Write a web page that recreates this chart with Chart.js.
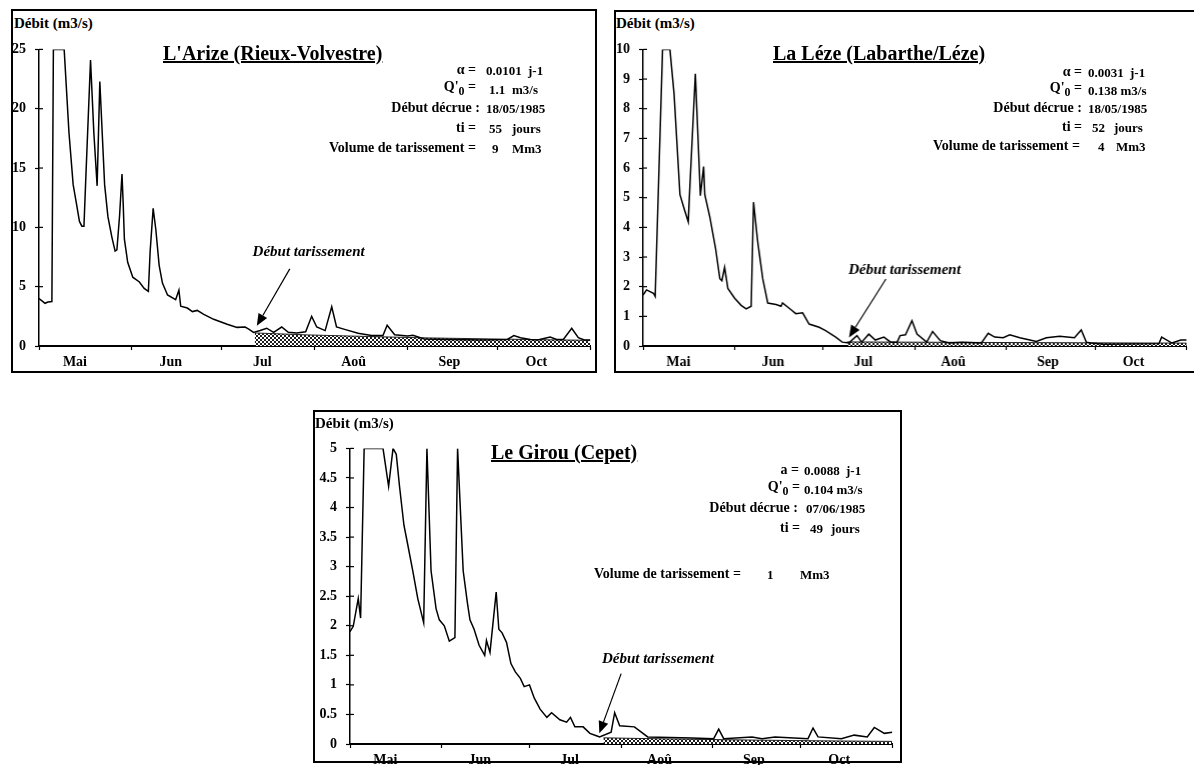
<!DOCTYPE html>
<html>
<head>
<meta charset="utf-8">
<script src="https://cdn.jsdelivr.net/npm/chart.js@4.4.0/dist/chart.umd.min.js"></script>
<style>
  body { margin: 0; width: 1194px; height: 765px; overflow: hidden; background: #fff; position: relative;
         font-family: "Liberation Serif", "Times New Roman", serif; color: #000; }
  .panel { position: absolute; border: 2px solid #000; box-sizing: border-box; }
  .wrap { position: absolute; }
  .t { position: absolute; font-weight: bold; white-space: nowrap; line-height: 1; transform: translateY(-50%); }
  .r { transform: translate(-100%, -50%); }
  .title { font-size: 20px; text-decoration: underline; }
  .p { font-size: 14px; }
  .v { font-size: 13px; }
  .ylab { font-size: 15px; }
  sub { font-size: 0.85em; vertical-align: -0.3em; }
</style>
</head>
<body>

<div class="panel" style="left:11px;top:9px;width:586px;height:364px"></div>
<div class="panel" style="left:614px;top:10px;width:590px;height:363px"></div>
<div class="panel" style="left:313px;top:410px;width:589px;height:353px"></div>

<div class="wrap" style="left:12.7px;top:31.7px;width:581.3px;height:338px"><canvas id="c1"></canvas></div>
<div class="wrap" style="left:617.3px;top:31.7px;width:572.7px;height:338px"><canvas id="c2"></canvas></div>
<div class="wrap" style="left:315.7px;top:431px;width:580.3px;height:337px"><canvas id="c3"></canvas></div>

<!-- panel 1 texts -->
<div class="t ylab" style="left:14px;top:23px">Débit (m3/s)</div>
<div class="t title" style="left:163px;top:53px">L'Arize (Rieux-Volvestre)</div>
<div class="t p r" style="left:476px;top:70px">α =</div>
<div class="t v" style="left:486px;top:70px">0.0101</div>
<div class="t v" style="left:528px;top:70px">j-1</div>
<div class="t p r" style="left:476px;top:89px">Q'<sub>0</sub> =</div>
<div class="t v" style="left:489px;top:89px">1.1</div>
<div class="t v" style="left:512px;top:89px">m3/s</div>
<div class="t p r" style="left:480px;top:108px">Début décrue :</div>
<div class="t v" style="left:486px;top:108px">18/05/1985</div>
<div class="t p r" style="left:476px;top:128px">ti =</div>
<div class="t v" style="left:489px;top:128px">55</div>
<div class="t v" style="left:512px;top:128px">jours</div>
<div class="t p r" style="left:476px;top:148px">Volume de tarissement =</div>
<div class="t v" style="left:492px;top:148px">9</div>
<div class="t v" style="left:512px;top:148px">Mm3</div>

<!-- panel 2 texts -->
<div class="t ylab" style="left:616px;top:23px">Débit (m3/s)</div>
<div class="t title" style="left:773px;top:53px">La Léze (Labarthe/Léze)</div>
<div class="t p r" style="left:1082px;top:72px">α =</div>
<div class="t v" style="left:1088px;top:72px">0.0031</div>
<div class="t v" style="left:1130px;top:72px">j-1</div>
<div class="t p r" style="left:1082px;top:90px">Q'<sub>0</sub> =</div>
<div class="t v" style="left:1088px;top:90px">0.138 m3/s</div>
<div class="t p r" style="left:1082px;top:108px">Début décrue :</div>
<div class="t v" style="left:1088px;top:108px">18/05/1985</div>
<div class="t p r" style="left:1082px;top:127px">ti =</div>
<div class="t v" style="left:1092px;top:127px">52</div>
<div class="t v" style="left:1114px;top:127px">jours</div>
<div class="t p r" style="left:1080px;top:146px">Volume de tarissement =</div>
<div class="t v" style="left:1098px;top:146px">4</div>
<div class="t v" style="left:1116px;top:146px">Mm3</div>

<!-- panel 3 texts -->
<div class="t ylab" style="left:315px;top:423px">Débit (m3/s)</div>
<div class="t title" style="left:491px;top:452px">Le Girou (Cepet)</div>
<div class="t p r" style="left:799px;top:470px">a =</div>
<div class="t v" style="left:804px;top:470px">0.0088</div>
<div class="t v" style="left:846px;top:470px">j-1</div>
<div class="t p r" style="left:800px;top:489px">Q'<sub>0</sub> =</div>
<div class="t v" style="left:804px;top:489px">0.104 m3/s</div>
<div class="t p r" style="left:798px;top:508px">Début décrue :</div>
<div class="t v" style="left:806px;top:508px">07/06/1985</div>
<div class="t p r" style="left:800px;top:528px">ti =</div>
<div class="t v" style="left:810px;top:528px">49</div>
<div class="t v" style="left:831px;top:528px">jours</div>
<div class="t p r" style="left:741px;top:574px">Volume de tarissement =</div>
<div class="t v" style="left:767px;top:574px">1</div>
<div class="t v" style="left:800px;top:574px">Mm3</div>

<script>
// days counted from 1 May 1985
const months = ['Mai', 'Jun', 'Jul', 'Aoû', 'Sep', 'Oct'];
const monthLabelDays = [12, 44, 74.5, 105, 137, 166];
const monthEdges = [0, 31, 61, 92, 123, 153, 184];

// L'Arize (Rieux-Volvestre)
const arizeDays = [0, 1, 2, 3, 4.3, 4.8, 8.4, 10, 11.4, 12.5, 13.5, 14.3, 15, 15.6, 17.2, 18.3, 19.4, 20.3, 21.9, 23,
  24.3, 25.4, 26, 26.9, 27.7, 28.1, 28.5, 29.6, 31.3, 33.5, 35.1, 36.5, 37.1, 38.1, 39, 40.1, 41.2, 42.9, 45.6, 46.7,
  47.3, 49.5, 51.2, 52.8, 55, 58.3, 62.8, 66.1, 68.8, 70, 71.6, 73.8, 76, 78.3, 81, 83.2, 86, 89, 91, 92.7,
  95.5, 97.7, 99.3, 102, 106.5, 111, 114.8, 116.2, 118.7, 123, 124.8, 128.6, 136, 147.4, 156.3, 158.5, 160.7, 164, 166.4, 170.6,
  172.8, 175, 177.8, 180, 182, 184];
const arizeFlow = [4.0, 3.8, 3.6, 3.7, 3.75, 25, 25, 18, 13.6, 12, 10.5, 10.1, 10.1, 14, 24.1, 18, 13.5, 22.3, 13.6, 10.9,
  9.2, 8.0, 8.1, 11, 14.5, 12, 9.0, 7.05, 5.8, 5.4, 4.85, 4.6, 8, 11.6, 9.8, 6.8, 5.3, 4.3, 3.9, 4.7,
  3.35, 3.2, 2.9, 3.0, 2.66, 2.25, 1.84, 1.57, 1.6, 1.43, 1.15, 1.3, 1.5, 1.15, 1.6, 1.15, 1.1, 1.2, 2.5, 1.6,
  1.3, 3.3, 1.6, 1.4, 1.07, 0.88, 0.88, 1.75, 0.95, 0.85, 0.9, 0.6, 0.55, 0.5, 0.55, 0.88, 0.7, 0.55, 0.5, 0.75,
  0.55, 0.55, 1.5, 0.7, 0.5, 0.5];
const arizeRecDays = [72, 90, 110, 130, 150, 170, 184];
const arizeRecFlow = [1.1, 0.93, 0.8, 0.68, 0.6, 0.52, 0.48];
const arizeTicks = [0, 5, 10, 15, 20, 25];

// La Léze (Labarthe/Léze)
const lezeDays = [0, 1.2, 3.5, 4.1, 6.6, 9.1, 10.5, 12.5, 14.1, 15.3, 15.9, 17.7, 19.4, 20.5, 20.9, 22.6, 24.6, 26, 26.7, 27.6,
  28.7, 31, 33.2, 34.9, 36.6, 37.4, 38.8, 40.5, 42.2, 45, 46.7, 47.2, 50, 51.7, 54, 56.2, 59.6, 61.8, 65.2, 67.4,
  69.6, 72.4, 74, 76.4, 78.6, 81.5, 83.8, 86, 87, 88.8, 91, 92.7, 96, 98, 100.6, 103.5, 108, 114.5, 116.8, 119,
  121.9, 124.1, 127.5, 130.9, 133.1, 136.5, 141, 146, 148.3, 150, 151.6, 156, 174.6, 175.5, 179, 182, 184];
const lezeFlow = [1.72, 1.89, 1.78, 1.67, 10, 10, 8.5, 5.1, 4.57, 4.19, 5.5, 9.18, 5.07, 6.05, 5.1, 4.35, 3.26, 2.27, 2.2, 2.65,
  1.94, 1.61, 1.37, 1.25, 1.34, 4.85, 3.53, 2.27, 1.45, 1.4, 1.34, 1.45, 1.23, 1.09, 1.12, 0.74, 0.63, 0.52, 0.3, 0.13,
  0.1, 0.35, 0.13, 0.4, 0.2, 0.3, 0.13, 0.13, 0.35, 0.38, 0.85, 0.4, 0.13, 0.49, 0.18, 0.1, 0.13, 0.1, 0.43, 0.3,
  0.28, 0.38, 0.28, 0.2, 0.15, 0.28, 0.33, 0.28, 0.54, 0.13, 0.1, 0.06, 0.08, 0.3, 0.1, 0.2, 0.2];
const lezeRecDays = [69, 100, 130, 160, 184];
const lezeRecFlow = [0.138, 0.125, 0.114, 0.104, 0.097];
const lezeTicks = [0, 1, 2, 3, 4, 5, 6, 7, 8, 9, 10];

// Le Girou (Cepet)
const girouDays = [0, 1.1, 2.8, 3.6, 4.8, 11.2, 13.1, 14.6, 15.7, 16.8, 18.3, 19.6, 21.3, 23, 25, 26.1, 27.5, 29.2, 30.3, 32,
  33.7, 35.6, 36.5, 38.4, 39.8, 40.7, 42.1, 43.8, 45.7, 46.3, 47.5, 49.6, 50.5, 51.6, 53.1, 54.6, 56.1, 57.8, 59.1, 60.9,
  62.5, 64.5, 66.8, 68.4, 71.2, 73.5, 74.8, 76.3, 79.1, 81.4, 83.6, 84.7, 88.6, 89.8, 91.5, 96.5, 101, 116, 123.4, 125.1,
  126.8, 136.4, 139.8, 144.2, 155.4, 157.1, 158.8, 166.7, 171.1, 175.5, 177.9, 181.3, 184];
const girouFlow = [1.9, 1.99, 2.46, 2.13, 5, 5, 4.36, 5, 4.9, 4.36, 3.7, 3.37, 2.93, 2.46, 2.05, 5, 2.93, 2.29, 2.1, 2.0,
  1.74, 1.8, 5, 2.93, 2.4, 2.1, 1.94, 1.67, 1.5, 1.75, 1.55, 2.57, 1.94, 1.88, 1.72, 1.36, 1.22, 1.11, 0.97, 1.0,
  0.78, 0.59, 0.45, 0.53, 0.41, 0.37, 0.45, 0.29, 0.29, 0.18, 0.14, 0.12, 0.2, 0.53, 0.31, 0.29, 0.12, 0.1, 0.09, 0.25,
  0.09, 0.12, 0.09, 0.12, 0.09, 0.27, 0.12, 0.09, 0.15, 0.12, 0.28, 0.18, 0.2];
const girouRecDays = [86, 110, 135, 160, 184];
const girouRecFlow = [0.104, 0.084, 0.067, 0.053, 0.044];
const girouTicks = [0, 0.5, 1, 1.5, 2, 2.5, 3, 3.5, 4, 4.5, 5];

Chart.defaults.font.family = '"Liberation Serif", "Times New Roman", serif';
Chart.defaults.color = '#000';

function hatchPattern() {
  const c = document.createElement('canvas');
  c.width = 4; c.height = 4;
  const g = c.getContext('2d');
  g.fillStyle = '#fff';
  g.fillRect(0, 0, 4, 4);
  g.fillStyle = '#1a1a1a';
  for (let i = 0; i < 4; i++) {
    g.fillRect(i, i, 1, 1);
    g.fillRect(3 - i, i, 1, 1);
  }
  return g.createPattern(c, 'repeat');
}

// arrow + "Début tarissement" label, and the inner half of the y tick marks
const arrowPlugin = {
  id: 'arrow',
  afterDraw(chart, args, opts) {
    const { ctx, scales: { x, y } } = chart;
    ctx.save();
    ctx.strokeStyle = '#000';
    ctx.lineWidth = 1.2;
    const ax = x.left;
    y.ticks.forEach(t => {
      const py = y.getPixelForValue(t.value);
      ctx.beginPath(); ctx.moveTo(ax, py); ctx.lineTo(ax + 4, py); ctx.stroke();
    });
    const tx = x.getPixelForValue(opts.tail[0]), ty = y.getPixelForValue(opts.tail[1]);
    const hx = x.getPixelForValue(opts.tip[0]), hy = y.getPixelForValue(opts.tip[1]);
    const ang = Math.atan2(hy - ty, hx - tx);
    const len = 12, half = 5;
    const bx = hx - len * Math.cos(ang), by = hy - len * Math.sin(ang);
    ctx.beginPath(); ctx.moveTo(tx, ty); ctx.lineTo(bx, by); ctx.stroke();
    ctx.fillStyle = '#000';
    ctx.beginPath();
    ctx.moveTo(hx, hy);
    ctx.lineTo(bx + half * Math.sin(ang), by - half * Math.cos(ang));
    ctx.lineTo(bx - half * Math.sin(ang), by + half * Math.cos(ang));
    ctx.closePath(); ctx.fill();
    ctx.font = 'italic bold 15px "Liberation Serif", serif';
    ctx.textAlign = 'center';
    ctx.textBaseline = 'middle';
    ctx.fillText(opts.text, x.getPixelForValue(opts.label[0]), y.getPixelForValue(opts.label[1]));
    ctx.restore();
  }
};

function makeChart(id, days, flow, recDays, recFlow, yTicks, yWidth, arrow) {
  const pts = days.map((d, i) => ({ x: d, y: flow[i] }));
  const rec = recDays.map((d, i) => ({ x: d, y: recFlow[i] }));
  return new Chart(document.getElementById(id), {
    type: 'line',
    data: {
      datasets: [
        { data: pts, borderColor: '#000', borderWidth: 1.5, pointRadius: 0, fill: false, tension: 0, order: 0 },
        { data: rec, borderColor: '#222', borderWidth: 1, pointRadius: 0, fill: 'origin',
          backgroundColor: hatchPattern(), tension: 0, order: 1 }
      ]
    },
    options: {
      animation: false,
      responsive: true,
      maintainAspectRatio: false,
      layout: { padding: { top: 10, left: 0, right: 0, bottom: 0 } },
      plugins: { legend: { display: false }, tooltip: { enabled: false }, arrow: arrow },
      scales: {
        x: {
          type: 'linear', min: 0, max: 184,
          afterBuildTicks(s) {
            s.ticks = monthEdges.concat(monthLabelDays).sort((a, b) => a - b).map(v => ({ value: v }));
          },
          afterFit(s) { s.height = 24; },
          ticks: {
            autoSkip: false, maxRotation: 0, padding: 4,
            font: { size: 14, weight: 'bold' }, color: '#000',
            callback(v) { const i = monthLabelDays.indexOf(v); return i >= 0 ? months[i] : ''; }
          },
          grid: {
            drawOnChartArea: false, drawTicks: true, tickLength: 4, tickWidth: 1.2,
            tickColor: c => (c.tick && monthEdges.includes(c.tick.value)) ? '#000' : 'rgba(0,0,0,0)'
          },
          border: { color: '#000', width: 2 }
        },
        y: {
          min: yTicks[0], max: yTicks[yTicks.length - 1],
          afterBuildTicks(s) { s.ticks = yTicks.map(v => ({ value: v })); },
          afterFit(s) { s.width = yWidth; },
          ticks: { padding: 9, font: { size: 14, weight: 'bold' }, color: '#000', callback: v => String(v) },
          grid: { drawOnChartArea: false, tickLength: 4, tickWidth: 1.2, tickColor: '#000' },
          border: { color: '#000', width: 1.5 }
        }
      }
    },
    plugins: [arrowPlugin]
  });
}

makeChart('c1', arizeDays, arizeFlow, arizeRecDays, arizeRecFlow, arizeTicks, 26,
  { text: 'Début tarissement', label: [90, 7.9], tail: [83.7, 6.5], tip: [72.7, 1.7] });
makeChart('c2', lezeDays, lezeFlow, lezeRecDays, lezeRecFlow, lezeTicks, 26,
  { text: 'Début tarissement', label: [88.5, 2.56], tail: [82.2, 2.26], tip: [69.7, 0.29] });
makeChart('c3', girouDays, girouFlow, girouRecDays, girouRecFlow, girouTicks, 34,
  { text: 'Début tarissement', label: [104.5, 1.44], tail: [92, 1.19], tip: [84.6, 0.18] });
</script>
</body>
</html>
